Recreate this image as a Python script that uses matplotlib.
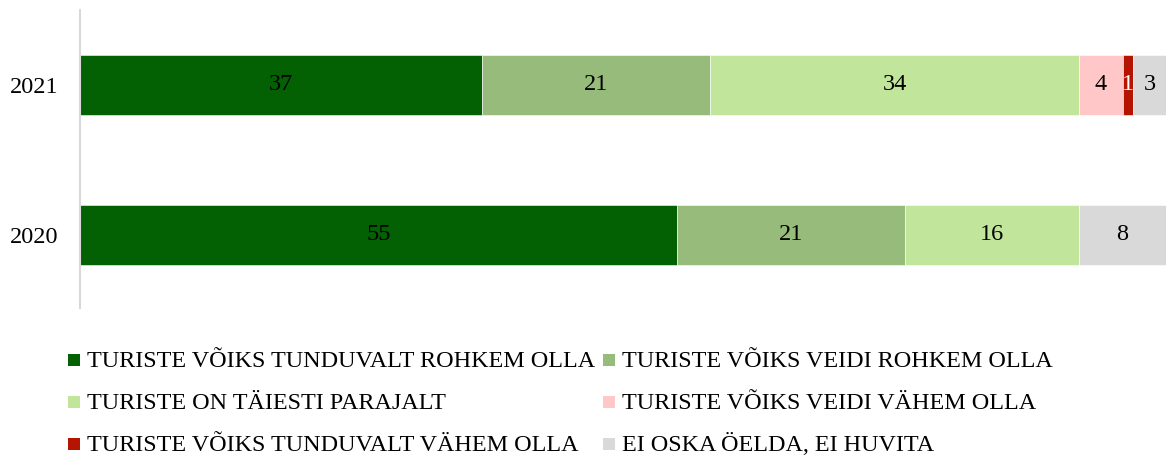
import matplotlib.pyplot as plt
from matplotlib.patches import Rectangle
import numpy as np

plt.rcParams['font.family'] = ['Liberation Serif', 'DejaVu Serif']

#Chart data
years = ['2020', '2021']
categories = ['TURISTE VÕIKS TUNDUVALT ROHKEM OLLA', 'TURISTE VÕIKS VEIDI ROHKEM OLLA',
              'TURISTE ON TÄIESTI PARAJALT', 'TURISTE VÕIKS VEIDI VÄHEM OLLA',
              'TURISTE VÕIKS TUNDUVALT VÄHEM OLLA', 'EI OSKA ÖELDA, EI HUVITA']
values_2020 = [55, 21, 16, 0, 0, 8]
values_2021 = [37, 21, 34, 4, 1, 3]
colors = ['#036003', '#97bb7a', '#c2e59c', '#ffc7c7', '#b41400', '#d9d9d9']
label_colors = ['black', 'black', 'black', 'black', 'white', 'black']

W, H = 1166, 455


def main():
	fig = plt.figure(figsize=(W / 100, H / 100), dpi=100)
	ax = fig.add_axes([80/W, 1-308/H, 1-80/W, 298/H])

	data = np.array([values_2020, values_2021])
	y = np.arange(len(years))
	left = np.zeros(len(years))
	for i, cat in enumerate(categories):
		ax.barh(y, data[:, i], left=left, height=0.4, color=colors[i],
		        edgecolor='white', linewidth=0.4, label=cat)
		for j in range(len(years)):
			v = data[j, i]
			if v > 0:
				ax.text(left[j] + v / 2, y[j], str(v), ha='center', va='center',
				        fontsize=17.5, color=label_colors[i])
		left = left + data[:, i]

	ax.set_xlim(0, 100)
	ax.set_ylim(-0.49, 1.5)
	ax.set_yticks(y)
	ax.set_yticklabels(years, fontsize=17.5)
	ax.tick_params(axis='y', length=0, pad=15.5)
	ax.set_xticks([])
	for s in ['top', 'right', 'bottom']:
		ax.spines[s].set_visible(False)
	ax.spines['left'].set_color('#d9d9d9')
	ax.spines['left'].set_linewidth(1.5)

	#Legend, two columns filled row by row
	col_x = [68, 603]
	baselines = [367, 409, 451]
	for k, cat in enumerate(categories):
		cx = col_x[k % 2]
		by = baselines[k // 2]
		fig.add_artist(Rectangle((cx / W, 1 - (by - 1) / H), 12 / W, 12 / H,
		                         transform=fig.transFigure, color=colors[k], lw=0))
		fig.text((cx + 19) / W, 1 - by / H, cat, va='baseline', ha='left', fontsize=17.4)

	fig.savefig('out.png', dpi=100)


#Execute main script
if __name__ == '__main__':
	main()
